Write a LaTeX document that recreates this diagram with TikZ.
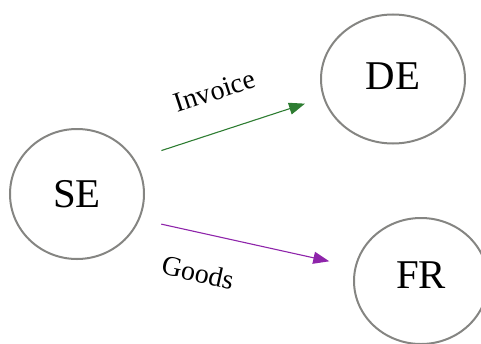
\documentclass[tikz,border=0pt]{standalone}
\usepackage{xcolor}
\usepackage{fontspec}
\setmainfont{Liberation Serif}
\usepackage{tikz}
\usetikzlibrary{arrows, arrows.meta, shapes.geometric}
\definecolor{invoicegreen}{RGB}{46,125,50}
\definecolor{goodspurple}{RGB}{142,36,170}
\definecolor{ringgray}{RGB}{133,133,130}

\begin{document}
\begin{tikzpicture}[x=1bp,y=1bp,
  country/.style={ellipse,draw=ringgray,line width=2bp,inner sep=0pt,font=\fontsize{41}{48}\selectfont},
  flow/.style={line width=1.1bp,-{Triangle[length=16bp,width=12bp]}},
  flowlabel/.style={sloped,inner sep=0pt,text=black,font=\fontsize{28}{32}\selectfont}]
\useasboundingbox (0,0) rectangle (481,343);
\node[country,minimum width=134bp,minimum height=130bp] (SE) at (77,149) {SE};
\node[country,minimum width=144bp,minimum height=129bp,text depth=6bp] (DE) at (393,264) {DE};
\node[country,minimum width=134bp,minimum height=126bp,text depth=11bp] (FR) at (421,62) {FR};
\draw[flow,invoicegreen,shorten <=28bp,shorten >=19bp] (SE.31) -- node[flowlabel,pos=0.49,above=30bp] {Invoice} (DE.195);
\draw[flow,goodspurple,shorten <=22bp,shorten >=26bp] (SE.-22) -- node[flowlabel,pos=0.31,below=29bp] {Goods} (FR.168);
\end{tikzpicture}
\end{document}
